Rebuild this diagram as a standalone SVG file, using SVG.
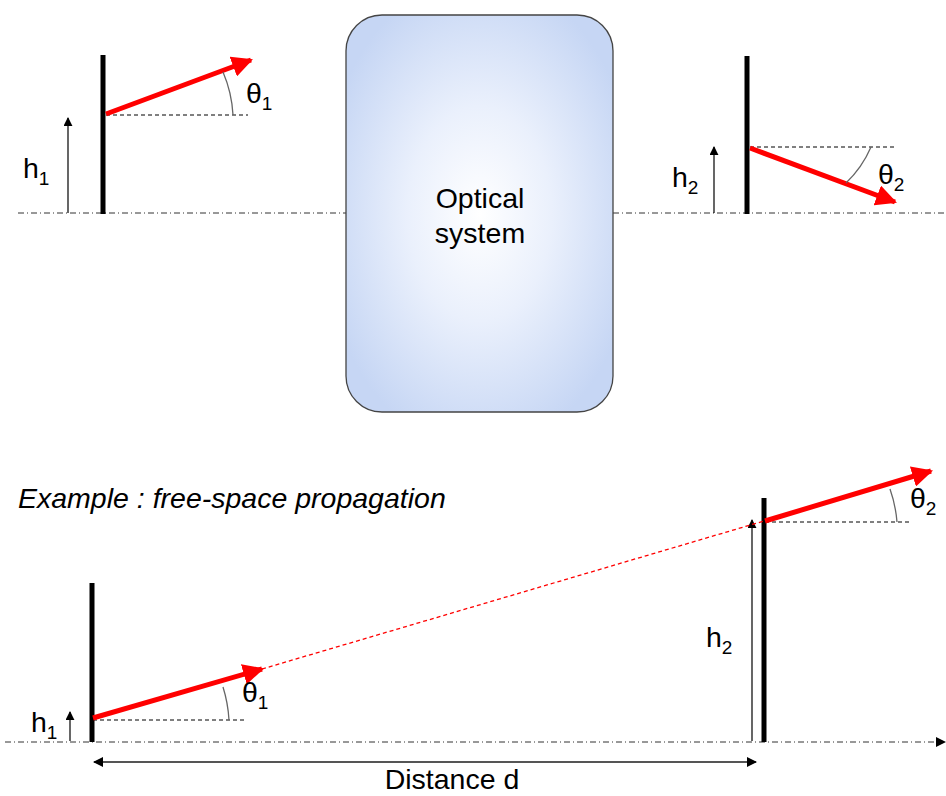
<svg xmlns="http://www.w3.org/2000/svg" width="946" height="796" viewBox="0 0 946 796">
<defs>
<radialGradient id="boxg" cx="0.5" cy="0.5" r="0.6">
<stop offset="0" stop-color="#ffffff"/>
<stop offset="0.45" stop-color="#eaf0fc"/>
<stop offset="1" stop-color="#c6d6f4"/>
</radialGradient>
<marker id="redhead" viewBox="0 0 10 10" refX="9" refY="5" markerWidth="4.2" markerHeight="4.2" orient="auto" markerUnits="strokeWidth">
<path d="M0,0 L10,5 L0,10 Z" fill="#ff0000"/>
</marker>
<marker id="blkhead" viewBox="0 0 10 10" refX="9" refY="5" markerWidth="9" markerHeight="9" orient="auto" markerUnits="userSpaceOnUse">
<path d="M0,0 L10,5 L0,10 Z" fill="#000"/>
</marker>
<marker id="grayhead" viewBox="0 0 10 10" refX="9" refY="5" markerWidth="10" markerHeight="10" orient="auto-start-reverse" markerUnits="userSpaceOnUse">
<path d="M0,0 L10,5 L0,10 Z" fill="#000"/>
</marker>
</defs>
<style>
.axis{stroke:#333;stroke-width:1;stroke-dasharray:6 3 1 3;fill:none}
.screen{stroke:#000;stroke-width:5;fill:none}
.ray{stroke:#ff0000;stroke-width:5;fill:none;marker-end:url(#redhead)}
.ref{stroke:#000;stroke-width:1;stroke-dasharray:4 3;fill:none}
.arc{stroke:#666;stroke-width:1.3;fill:none}
.harr{stroke:#000;stroke-width:1.2;fill:none;marker-end:url(#blkhead)}
.t{font-family:"Liberation Sans",Arial,sans-serif;font-size:28.5px;fill:#000}
.s{font-size:19px}
</style>

<g id="axes">
<line class="axis" x1="18" y1="213" x2="346" y2="213"/>
<line class="axis" x1="613" y1="213" x2="946" y2="213"/>
<line class="axis" x1="5" y1="742" x2="936" y2="742"/>
<path d="M936,737 L946,742 L936,747 Z" fill="#000"/>
</g>

<g id="optical-system">
<rect x="346" y="15" width="267" height="397" rx="36" ry="36" fill="url(#boxg)" stroke="#444" stroke-width="1.3"/>
<text class="t" x="480" y="208" text-anchor="middle">Optical</text>
<text class="t" x="480" y="243" text-anchor="middle">system</text>
</g>

<g id="input-plane-top">
<line class="screen" x1="103" y1="55" x2="103" y2="214"/>
<line class="harr" x1="68" y1="213" x2="68" y2="118"/>
<text class="t" x="23" y="178">h<tspan class="s" dy="7">1</tspan></text>
<line class="ref" x1="106" y1="115" x2="248" y2="115"/>
<line class="ray" x1="106" y1="114" x2="251" y2="60"/>
<path class="arc" d="M223,72 A126,126 0 0 1 233,115"/>
<text class="t" x="246" y="103">θ<tspan class="s" dy="7">1</tspan></text>
</g>

<g id="output-plane-top">
<line class="screen" x1="747" y1="56" x2="747" y2="214"/>
<line class="harr" x1="714" y1="213" x2="714" y2="147"/>
<text class="t" x="672" y="187">h<tspan class="s" dy="7">2</tspan></text>
<line class="ref" x1="750" y1="147" x2="895" y2="147"/>
<line class="ray" x1="750" y1="148" x2="895" y2="202"/>
<path class="arc" d="M871,147 A110,110 0 0 1 846,183"/>
<text class="t" x="878" y="184">θ<tspan class="s" dy="7">2</tspan></text>
</g>

<g id="example-title">
<text class="t" x="18" y="508" font-style="italic">Example : free-space propagation</text>
</g>

<g id="input-plane-bottom">
<line class="screen" x1="92" y1="583" x2="92" y2="742"/>
<line class="harr" x1="70" y1="741" x2="70" y2="712"/>
<text class="t" x="31" y="732">h<tspan class="s" dy="7">1</tspan></text>
<line class="ref" x1="93" y1="720" x2="244" y2="720"/>
<line class="ray" x1="93" y1="718" x2="262" y2="669"/>
<path class="arc" d="M223,687 A136,136 0 0 1 229,720"/>
<text class="t" x="242" y="702">θ<tspan class="s" dy="7">1</tspan></text>
</g>

<g id="output-plane-bottom">
<line class="screen" x1="764" y1="498" x2="764" y2="742"/>
<line class="harr" x1="752" y1="741" x2="752" y2="520"/>
<text class="t" x="706" y="647">h<tspan class="s" dy="7">2</tspan></text>
<line class="ref" x1="765" y1="522" x2="912" y2="522"/>
<line class="ray" x1="765" y1="521" x2="931" y2="471"/>
<path class="arc" d="M890,489 A132,132 0 0 1 897,522"/>
<text class="t" x="910" y="508">θ<tspan class="s" dy="7">2</tspan></text>
</g>

<g id="connectors">
<line x1="262" y1="669" x2="764" y2="521" stroke="#ff0000" stroke-width="1.3" stroke-dasharray="4 3"/>
<line x1="94" y1="762" x2="756" y2="762" stroke="#555" stroke-width="2" marker-start="url(#grayhead)" marker-end="url(#grayhead)"/>
<text class="t" x="452" y="789" text-anchor="middle">Distance d</text>
</g>
</svg>
